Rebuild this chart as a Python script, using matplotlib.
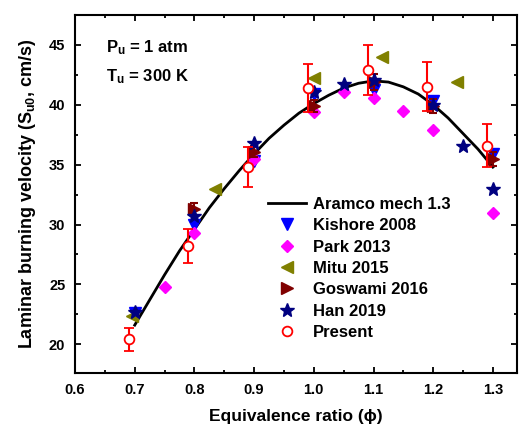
import numpy as np
import matplotlib
matplotlib.use("Agg")
import matplotlib.pyplot as plt
from matplotlib.ticker import MultipleLocator
from matplotlib.lines import Line2D

plt.rcParams['font.family'] = ['Liberation Sans', 'DejaVu Sans']
plt.rcParams['font.weight'] = 'bold'
plt.rcParams['mathtext.fontset'] = 'custom'
plt.rcParams['mathtext.rm'] = 'Liberation Sans:bold'
plt.rcParams['mathtext.bf'] = 'Liberation Sans:bold'
plt.rcParams['mathtext.it'] = 'Liberation Sans:bold'

# Aramco mech 1.3 model curve
aramco_phi = [0.70, 0.725, 0.75, 0.775, 0.80, 0.825, 0.85, 0.875, 0.90, 0.925, 0.95, 0.975,
              1.00, 1.025, 1.05, 1.075, 1.10, 1.125, 1.15, 1.175, 1.20, 1.225, 1.25, 1.275, 1.30]
aramco_su = [21.6, 23.7, 25.8, 27.8, 29.6, 31.4, 33.0, 34.5, 35.9, 37.2, 38.3, 39.3,
             40.1, 40.8, 41.4, 41.8, 42.0, 41.9, 41.5, 40.9, 40.0, 38.9, 37.6, 36.3, 34.8]

kishore_phi = [0.70, 0.80, 0.90, 1.00, 1.10, 1.20, 1.30]
kishore_su = [22.6, 30.0, 35.3, 40.9, 41.2, 40.3, 35.9]

park_phi = [0.75, 0.80, 0.90, 1.00, 1.05, 1.10, 1.15, 1.20, 1.30]
park_su = [24.8, 29.3, 35.5, 39.4, 41.1, 40.6, 39.5, 37.9, 31.0]

mitu_phi = [0.695, 0.835, 1.00, 1.115, 1.24]
mitu_su = [22.4, 33.0, 42.2, 44.0, 41.9]

goswami_phi = [0.80, 0.90, 1.00, 1.10, 1.20, 1.30]
goswami_su = [31.3, 36.1, 39.9, 41.9, 39.9, 35.5]
goswami_err = [0.5, 0.5, 0.5, 0.7, 0.6, 0.6]

han_phi = [0.70, 0.80, 0.90, 1.00, 1.05, 1.10, 1.20, 1.25, 1.30]
han_su = [22.7, 30.7, 36.8, 41.1, 41.75, 42.05, 40.0, 36.6, 33.0]

present_phi = [0.69, 0.79, 0.89, 0.99, 1.09, 1.19, 1.29]
present_su = [20.4, 28.2, 34.8, 41.4, 42.9, 41.5, 36.6]
present_err = [1.0, 1.4, 1.7, 2.0, 2.1, 2.05, 1.8]

fig = plt.figure(figsize=(5.22, 4.29), dpi=100)
ax = fig.add_axes([0.1437, 0.1305, 0.8463, 0.8345])

ax.plot(aramco_phi, aramco_su, color='black', lw=2, zorder=2)
ax.plot(kishore_phi, kishore_su, 'v', color='#0000FF', ms=8, ls='none', zorder=3)
ax.plot(park_phi, park_su, 'D', color='#FF00FF', ms=6.5, ls='none', zorder=3)
ax.plot(mitu_phi, mitu_su, '<', color='#808000', ms=8, ls='none', zorder=3)
ax.errorbar(goswami_phi, goswami_su, yerr=goswami_err, fmt='>', color='#800000', ms=8,
            capsize=3, elinewidth=1.5, capthick=1.5, zorder=4)
ax.plot(han_phi, han_su, '*', color='#000080', ms=10, ls='none', zorder=5)
ax.errorbar(present_phi, present_su, yerr=present_err, fmt='o', color='#FF0000', mfc='white',
            mec='#FF0000', mew=1.3, ms=7, capsize=3.5, elinewidth=1.5, capthick=1.5, zorder=6)

handles = [
    Line2D([], [], color='black', lw=2),
    Line2D([], [], marker='v', color='#0000FF', ms=8, ls='none'),
    Line2D([], [], marker='D', color='#FF00FF', ms=6.5, ls='none'),
    Line2D([], [], marker='<', color='#808000', ms=8, ls='none'),
    Line2D([], [], marker='>', color='#800000', ms=8, ls='none'),
    Line2D([], [], marker='*', color='#000080', ms=10, ls='none'),
    Line2D([], [], marker='o', color='#FF0000', mfc='white', mew=1.3, ms=7, ls='none'),
]
labels = ['Aramco mech 1.3', 'Kishore 2008', 'Park 2013', 'Mitu 2015',
          'Goswami 2016', 'Han 2019', 'Present']

ax.set_xlim(0.6, 1.34)
ax.set_ylim(17.6, 47.5)
ax.xaxis.set_minor_locator(MultipleLocator(0.05))
ax.yaxis.set_major_locator(MultipleLocator(5))
ax.yaxis.set_minor_locator(MultipleLocator(2.5))
ax.set_xticks([0.6, 0.7, 0.8, 0.9, 1.0, 1.1, 1.2, 1.3])
ax.set_xticklabels(['0.6', '0.7', '0.8', '0.9', '1.0', '1.1', '1.2', '1.3'])
ax.tick_params(which='both', direction='in', top=True, right=True, labelsize=10.5, width=1.3)
ax.tick_params(which='major', length=4.5, pad=7)
ax.tick_params(which='minor', length=2.5)
for lab in ax.get_xticklabels() + ax.get_yticklabels():
    lab.set_fontweight('bold')
for s in ax.spines.values():
    s.set_linewidth(1.5)

ax.set_xlabel('Equivalence ratio (ϕ)', fontsize=12.5, fontweight='bold', labelpad=9)
ax.set_ylabel('Laminar burning velocity (S$_{u0}$, cm/s)', fontsize=13, fontweight='bold', labelpad=8)

ax.text(0.07, 0.908, 'P$_\\mathregular{u}$ = 1 atm', transform=ax.transAxes, fontsize=12,
        fontweight='bold', va='center')
ax.text(0.07, 0.827, 'T$_\\mathregular{u}$ = 300 K', transform=ax.transAxes, fontsize=12,
        fontweight='bold', va='center')

leg = ax.legend(handles, labels, loc='lower left', bbox_to_anchor=(0.41, 0.06), frameon=False,
                fontsize=12, handlelength=2.3, handletextpad=0.4, labelspacing=0.38, borderpad=0.2)
for t in leg.get_texts():
    t.set_fontweight('bold')

fig.savefig('out.png', dpi=100)
